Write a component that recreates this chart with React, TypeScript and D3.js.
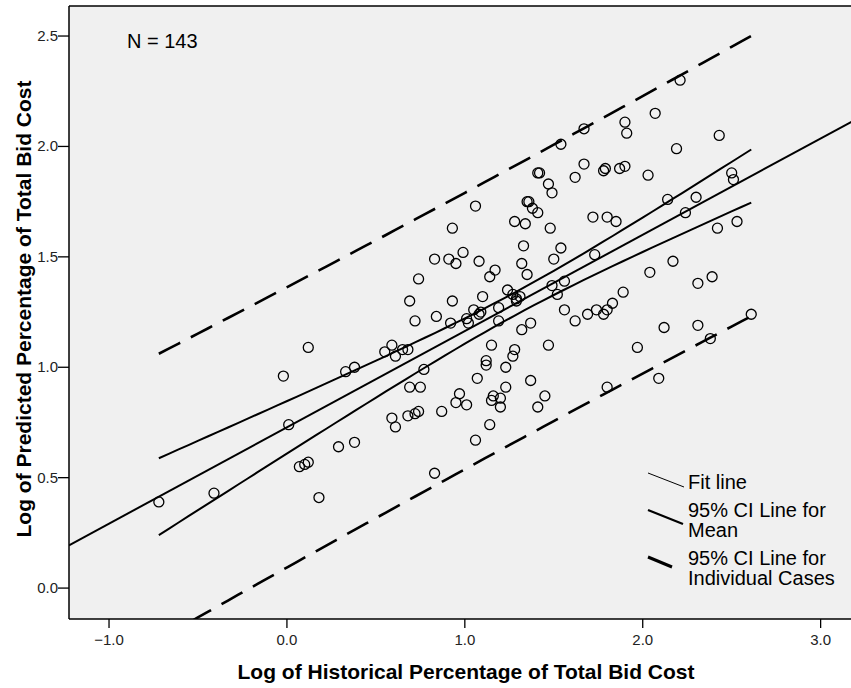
import React from "react";
import * as d3 from "d3";

// Log of Historical Percentage of Total Bid Cost (x) and Log of Predicted Percentage (y)
const xHistorical: number[] = [
  -0.72, -0.41, -0.02, 0.01, 0.07, 0.10, 0.12, 0.18, 0.83, 0.12,
  0.33, 0.38, 0.55, 0.59, 0.61, 0.65, 0.68, 0.74, 0.69, 0.72,
  0.83, 0.91, 0.95, 0.99, 0.84, 0.93, 0.92, 1.01, 1.02, 1.05,
  1.08, 1.09, 1.08, 1.10, 1.14, 1.17, 1.19, 1.19, 1.24, 1.27,
  1.29, 1.31, 1.33, 1.32, 1.35, 1.37, 1.32, 1.50, 1.54, 1.49,
  1.52, 1.56, 1.56, 1.62, 1.47, 1.15, 1.28, 1.27, 1.12, 1.12,
  1.23, 0.77, 1.07, 1.37, 0.69, 0.75, 1.23, 0.97, 1.45, 0.95,
  1.01, 1.16, 1.15, 1.20, 1.20, 1.41, 0.59, 0.61, 0.68, 0.72,
  0.74, 0.87, 1.14, 1.06, 0.29, 0.38, 1.54, 1.41, 1.42, 1.47,
  1.49, 1.62, 1.06, 1.35, 1.36, 1.38, 1.41, 1.28, 1.34, 1.48,
  0.93, 1.67, 1.90, 1.91, 2.07, 2.21, 2.19, 2.43, 1.67, 1.78,
  1.79, 1.87, 1.90, 2.03, 1.72, 1.80, 1.85, 2.14, 2.30, 2.24,
  2.50, 2.51, 2.42, 2.53, 1.73, 1.69, 1.74, 1.78, 1.80, 1.83,
  1.89, 2.04, 2.17, 2.31, 2.39, 1.97, 2.12, 2.31, 2.38, 2.61,
  1.80, 2.09, 1.29,
];
const yPredicted: number[] = [
  0.39, 0.43, 0.96, 0.74, 0.55, 0.56, 0.57, 0.41, 0.52, 1.09,
  0.98, 1.00, 1.07, 1.10, 1.05, 1.08, 1.08, 1.40, 1.30, 1.21,
  1.49, 1.49, 1.47, 1.52, 1.23, 1.30, 1.20, 1.22, 1.20, 1.26,
  1.24, 1.25, 1.48, 1.32, 1.41, 1.44, 1.27, 1.21, 1.35, 1.33,
  1.30, 1.32, 1.55, 1.47, 1.42, 1.20, 1.17, 1.49, 1.54, 1.37,
  1.33, 1.39, 1.26, 1.21, 1.10, 1.10, 1.08, 1.05, 1.03, 1.01,
  1.00, 0.99, 0.95, 0.94, 0.91, 0.91, 0.91, 0.88, 0.87, 0.84,
  0.83, 0.87, 0.85, 0.86, 0.82, 0.82, 0.77, 0.73, 0.78, 0.79,
  0.80, 0.80, 0.74, 0.67, 0.64, 0.66, 2.01, 1.88, 1.88, 1.83,
  1.79, 1.86, 1.73, 1.75, 1.75, 1.72, 1.70, 1.66, 1.65, 1.63,
  1.63, 2.08, 2.11, 2.06, 2.15, 2.30, 1.99, 2.05, 1.92, 1.89,
  1.90, 1.90, 1.91, 1.87, 1.68, 1.68, 1.66, 1.76, 1.77, 1.70,
  1.88, 1.85, 1.63, 1.66, 1.51, 1.24, 1.26, 1.24, 1.26, 1.29,
  1.34, 1.43, 1.48, 1.38, 1.41, 1.09, 1.18, 1.19, 1.13, 1.24,
  0.91, 0.95, 1.31,
];

const xTicks: number[] = [-1, 0, 1, 2, 3];
const yTicks: number[] = [0, 0.5, 1, 1.5, 2, 2.5];
const legendLabels: string[][] = [
  ["Fit line"],
  ["95% CI Line for", "Mean"],
  ["95% CI Line for", "Individual Cases"],
];
const xTitle = "Log of Historical Percentage of Total Bid Cost";
const yTitle = "Log of Predicted Percentage of Total Bid Cost";
const T_CRIT = 1.977; // t(0.975, df = n - 2)

const W = 851;
const H = 688;
const PL = 69;
const PT = 6;
const PB = 619;
const PR = 880;
const FONT = "'Liberation Sans', Arial, Helvetica, sans-serif";

export default function App() {
  const x = d3.scaleLinear().domain([-1.225, 3.33]).range([PL, PL + 4.555 * 177.9]);
  const y = d3.scaleLinear().domain([-0.14, 2.636]).range([PB, PT]);

  const n = xHistorical.length;
  const xbar = d3.mean(xHistorical) as number;
  const ybar = d3.mean(yPredicted) as number;
  let sxx = 0, sxy = 0;
  for (let i = 0; i < n; i++) {
    sxx += (xHistorical[i] - xbar) ** 2;
    sxy += (xHistorical[i] - xbar) * (yPredicted[i] - ybar);
  }
  const b = sxy / sxx;
  const a = ybar - b * xbar;
  let sse = 0;
  for (let i = 0; i < n; i++) sse += (yPredicted[i] - a - b * xHistorical[i]) ** 2;
  const s = Math.sqrt(sse / (n - 2));
  const [xmin, xmax] = d3.extent(xHistorical) as [number, number];
  const grid = d3.range(0, 61).map((k) => xmin + ((xmax - xmin) * k) / 60);
  const fit = (v: number) => a + b * v;
  const seMean = (v: number) => s * Math.sqrt(1 / n + (v - xbar) ** 2 / sxx);
  const seInd = (v: number) => s * Math.sqrt(1 + 1 / n + (v - xbar) ** 2 / sxx);

  const line = d3
    .line<[number, number]>()
    .x((d) => x(d[0]))
    .y((d) => y(d[1]));

  const fitPath = line([
    [x.domain()[0], fit(x.domain()[0])],
    [x.domain()[1], fit(x.domain()[1])],
  ]);
  const meanUp = line(grid.map((v) => [v, fit(v) + T_CRIT * seMean(v)] as [number, number]));
  const meanLo = line(grid.map((v) => [v, fit(v) - T_CRIT * seMean(v)] as [number, number]));
  const indUp = line(grid.map((v) => [v, fit(v) + T_CRIT * seInd(v)] as [number, number]));
  const indLo = line(grid.map((v) => [v, fit(v) - T_CRIT * seInd(v)] as [number, number]));

  const legendX = 688;
  const legendRows = [
    { y0: 489, seg: [648, 473, 684, 487], w: 1 },
    { y0: 517, seg: [648, 510, 683, 524], w: 2.2 },
    { y0: 565, seg: [648, 557, 672, 567], w: 3 },
  ];

  return (
    <svg
      width={W}
      height={H}
      style={{ position: "absolute", left: 0, top: 0, background: "#fff" }}
      fontFamily={FONT}
    >
      <defs>
        <clipPath id="plotClip">
          <rect x={PL} y={PT} width={PR - PL} height={PB - PT} />
        </clipPath>
      </defs>
      <rect x={PL} y={PT} width={PR - PL} height={PB - PT} fill="#f0f0f0" />

      <g clipPath="url(#plotClip)" fill="none" stroke="#000">
        <path d={indUp || ""} strokeWidth={2.6} strokeDasharray="24 12" />
        <path d={indLo || ""} strokeWidth={2.6} strokeDasharray="24 12" />
        <path d={meanUp || ""} strokeWidth={2} />
        <path d={meanLo || ""} strokeWidth={2} />
        <path d={fitPath || ""} strokeWidth={2} />
        {xHistorical.map((xv, i) => (
          <circle key={i} cx={x(xv)} cy={y(yPredicted[i])} r={5} strokeWidth={1.3} />
        ))}
      </g>

      {/* frame */}
      <line x1={PL} y1={PT} x2={PR} y2={PT} stroke="#000" strokeWidth={1.5} />
      <line x1={PL} y1={PT} x2={PL} y2={PB} stroke="#000" strokeWidth={1.5} />
      <line x1={PL} y1={PB} x2={PR} y2={PB} stroke="#000" strokeWidth={1.5} />

      {/* y axis */}
      {yTicks.map((t) => (
        <g key={t}>
          <line x1={PL - 11} x2={PL} y1={y(t)} y2={y(t)} stroke="#000" strokeWidth={1.3} />
          <text x={PL - 11} y={y(t) + 5} textAnchor="end" fontSize={15} fill="#222">
            {d3.format(".1f")(t)}
          </text>
        </g>
      ))}
      {/* x axis */}
      {xTicks.map((t) => (
        <g key={t}>
          <line x1={x(t)} x2={x(t)} y1={PB} y2={PB + 9} stroke="#000" strokeWidth={1.3} />
          <text x={x(t)} y={645} textAnchor="middle" fontSize={15} fill="#222">
            {d3.format(".1f")(t)}
          </text>
        </g>
      ))}

      <text x={466} y={679} textAnchor="middle" fontSize={21} fontWeight="bold" fill="#000">
        {xTitle}
      </text>
      <text
        transform={`translate(31, 309) rotate(-90)`}
        textAnchor="middle"
        fontSize={21}
        fontWeight="bold"
        fill="#000"
      >
        {yTitle}
      </text>

      <text x={127} y={48} fontSize={20} fill="#000">
        N = {n}
      </text>

      {/* legend */}
      {legendRows.map((r, i) => (
        <g key={i}>
          <line
            x1={r.seg[0]}
            y1={r.seg[1]}
            x2={r.seg[2]}
            y2={r.seg[3]}
            stroke="#000"
            strokeWidth={r.w}
          />
          {legendLabels[i].map((lab, j) => (
            <text key={j} x={legendX} y={r.y0 + j * 20} fontSize={20} fill="#000">
              {lab}
            </text>
          ))}
        </g>
      ))}
    </svg>
  );
}
